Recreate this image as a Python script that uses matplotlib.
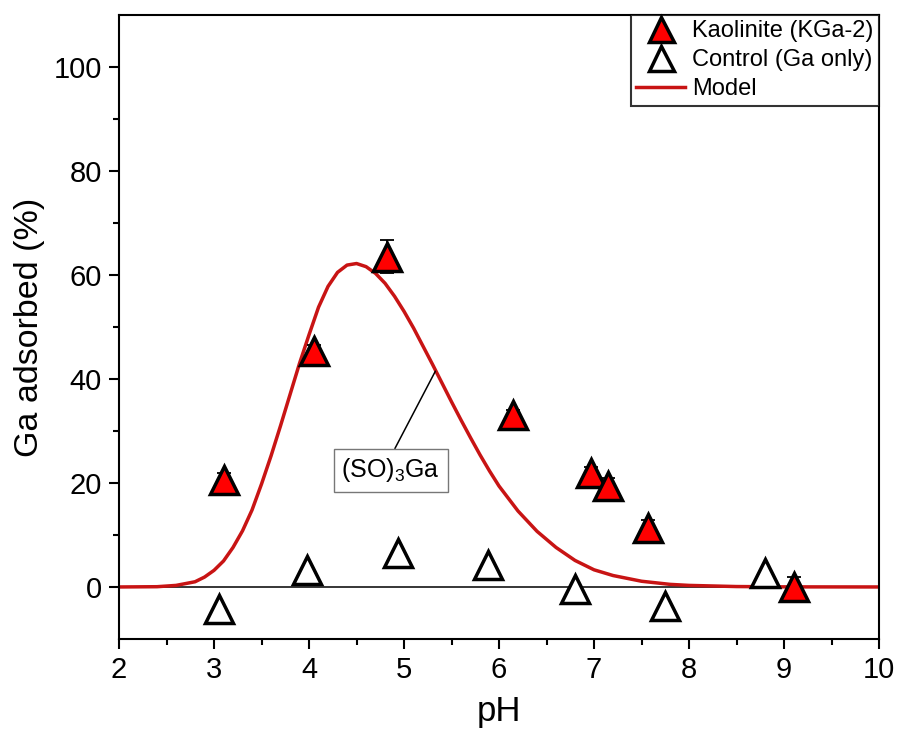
import numpy as np
import matplotlib
matplotlib.use("Agg")
import matplotlib.pyplot as plt

plt.rcParams['font.family'] = ['Liberation Sans', 'DejaVu Sans']
plt.rcParams['mathtext.default'] = 'regular'

# Kaolinite (KGa-2) data
kao_ph = [3.10, 4.05, 4.82, 6.15, 6.97, 7.15, 7.57, 9.10]
kao_ads = [20.5, 45.3, 63.5, 33.0, 21.9, 19.5, 11.3, 0.0]
kao_err = [1.5, 1.2, 3.2, 1.0, 1.2, 1.5, 1.5, 2.0]

# Control (Ga only)
ctl_ph = [3.05, 3.98, 4.94, 5.88, 6.80, 7.75, 8.80]
ctl_ads = [-4.2, 3.2, 6.6, 4.2, -0.3, -3.6, 2.6]

# Model curve
model_ph = [2.0, 2.4, 2.6, 2.8, 2.9, 3.0, 3.1, 3.2, 3.3, 3.4, 3.5, 3.6, 3.7, 3.8,
            3.9, 4.0, 4.1, 4.2, 4.3, 4.4, 4.5, 4.6, 4.7, 4.8, 4.9, 5.0, 5.1, 5.2,
            5.3, 5.4, 5.5, 5.6, 5.7, 5.8, 5.9, 6.0, 6.2, 6.4, 6.6, 6.8, 7.0, 7.2,
            7.5, 7.8, 8.0, 8.5, 9.0, 10.0]
model_ads = [0.0, 0.05, 0.3, 1.0, 1.9, 3.2, 5.0, 7.6, 10.8, 14.8, 19.8, 25.2, 31.0, 37.0,
             43.0, 48.5, 53.8, 57.8, 60.5, 61.9, 62.2, 61.6, 60.3, 58.4, 55.9, 53.0, 49.8, 46.3,
             42.8, 39.2, 35.6, 32.1, 28.7, 25.4, 22.3, 19.4, 14.6, 10.7, 7.6, 5.1, 3.3, 2.2,
             1.1, 0.5, 0.3, 0.08, 0.02, 0.0]

fig = plt.figure(figsize=(8.99, 7.41), dpi=100)
ax = fig.add_axes([0.1324, 0.1377, 0.8454, 0.8421])

ax.axhline(0, color='black', lw=1.1, zorder=1)
ax.plot(model_ph, model_ads, color='#c81414', lw=2.5, label='Model', zorder=2)

ax.errorbar(kao_ph, kao_ads, yerr=kao_err, fmt='none', ecolor='black',
            elinewidth=1.3, capsize=5, capthick=1.3, zorder=3)
ax.plot(kao_ph, kao_ads, linestyle='none', marker='^', ms=20, mfc='#ff0000',
        mec='black', mew=2.5, label='Kaolinite (KGa-2)', zorder=4)
ax.plot(ctl_ph, ctl_ads, linestyle='none', marker='^', ms=20, mfc='white',
        mec='black', mew=2.5, label='Control (Ga only)', zorder=4)

ax.annotate('(SO)$_3$Ga', xy=(5.33, 41.5), xytext=(4.86, 22.4),
            ha='center', va='center', fontsize=18,
            bbox=dict(boxstyle='square,pad=0.3', fc='white', ec='#777777', lw=1),
            arrowprops=dict(arrowstyle='-', color='black', lw=1.1, relpos=(0.5, 1.0),
                            shrinkA=0, shrinkB=0),
            zorder=5)

ax.set_xlim(2, 10)
ax.set_ylim(-10, 110)
ax.set_xticks(np.arange(2, 11, 1))
ax.set_xticks(np.arange(2.5, 10, 1), minor=True)
ax.set_yticks(np.arange(0, 101, 20))
ax.set_yticks(np.arange(10, 101, 20), minor=True)
ax.tick_params(which='major', direction='out', length=7.5, width=1.5, labelsize=21, pad=5)
ax.tick_params(which='minor', direction='out', length=4, width=1.5)
for s in ax.spines.values():
    s.set_linewidth(1.5)

ax.set_xlabel('pH', fontsize=25, labelpad=8)
ax.set_ylabel('Ga adsorbed (%)', fontsize=24.5, labelpad=6)

handles, labels = ax.get_legend_handles_labels()
order = [1, 2, 0]
leg = ax.legend([handles[i] for i in order], [labels[i] for i in order],
                loc='upper right', fontsize=17, frameon=True, fancybox=False,
                edgecolor='black', borderaxespad=0, handlelength=2.1,
                handletextpad=0.3, labelspacing=0.3, borderpad=0.22,
                markerscale=0.9)
leg.get_frame().set_linewidth(1.5)

plt.savefig('out.png', dpi=100)
